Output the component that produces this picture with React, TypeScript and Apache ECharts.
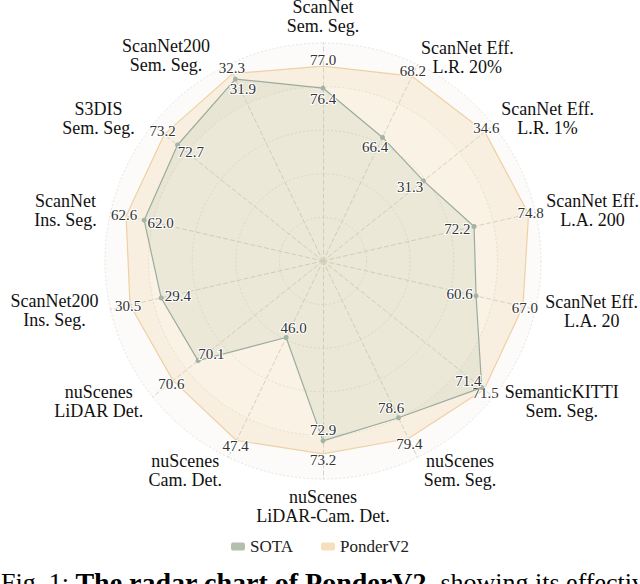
import React, { useEffect, useRef } from 'react';
import * as echarts from 'echarts';

// ---- data (clockwise from top) ----
const categories = [
  'ScanNet\nSem. Seg.',
  'ScanNet Eff.\nL.R. 20%',
  'ScanNet Eff.\nL.R. 1%',
  'ScanNet Eff.\nL.A. 200',
  'ScanNet Eff.\nL.A. 20',
  'SemanticKITTI\nSem. Seg.',
  'nuScenes\nSem. Seg.',
  'nuScenes\nLiDAR-Cam. Det.',
  'nuScenes\nCam. Det.',
  'nuScenes\nLiDAR Det.',
  'ScanNet200\nIns. Seg.',
  'ScanNet\nIns. Seg.',
  'S3DIS\nSem. Seg.',
  'ScanNet200\nSem. Seg.',
];
const sotaValues = [76.4, 66.4, 31.3, 72.2, 60.6, 71.4, 78.6, 72.9, 46.0, 70.1, 29.4, 62.0, 72.7, 31.9];
const ponderValues = [77.0, 68.2, 34.6, 74.8, 67.0, 71.5, 79.4, 73.2, 47.4, 70.6, 30.5, 62.6, 73.2, 32.3];
// per-axis scale range
const axisMin = [71.68, 62.77, 25.9, 65.0, 39.67, 64.63, 72.55, 68.75, 44.96, 67.6, 23.69, 56.05, 67.23, 18.43];
const axisMax = [77.63, 68.54, 35.06, 75.13, 68.73, 71.9, 80.13, 73.78, 47.63, 71.01, 31.19, 63.12, 73.64, 32.97];
const seriesNames = ['SOTA', 'PonderV2'];

// ---- layout ----
const CX = 323;
const CY = 261;
const R = 218;
const nameGaps = [8, 8, 10, 11, 7, 8, 14, 8, 15, 8, 4, 7, 10, 10];
const namePads = [
  [0, 0, 0, 0], [0, 0, 0, 0], [0, 0, 0, 0], [0, 0, 0, 0], [0, 0, 0, 3], [0, 0, 0, 5], [0, 0, 0, 0],
  [0, 0, 0, 0], [0, 0, 0, 0], [0, 3, 0, 0], [0, 8, 0, 0], [0, 7, 0, 0], [0, 10, 0, 0], [0, 14, 0, 0],
];
const SERIF = 'Liberation Serif';

// ECharts radar runs counter-clockwise; reorder so the chart reads clockwise
const order = [0, 13, 12, 11, 10, 9, 8, 7, 6, 5, 4, 3, 2, 1];

function makeLabelLayout(inward: boolean) {
  return (p: any) => {
    const r = p.rect;
    const px = r.x + r.width / 2;
    const py = r.y + r.height / 2;
    const dx = px - CX;
    const dy = py - CY;
    const len = Math.hypot(dx, dy) || 1;
    const ux = dx / len;
    const uy = dy / len;
    if (inward) {
      return { x: px - ux * 17, y: py - uy * 10.5, align: 'center', verticalAlign: 'middle' };
    }
    return { x: px + ux * 2, y: py + uy * 6, align: 'center', verticalAlign: 'middle' };
  };
}

function valueLabel() {
  return {
    show: true,
    fontFamily: SERIF,
    fontSize: 15,
    color: '#333',
    textBorderColor: '#fff',
    textBorderWidth: 2,
    formatter: (p: any) => Number(p.value).toFixed(1),
  };
}

const fontCss = `#root svg text, #root svg tspan { font-family: 'Liberation Serif', serif !important; }`;

export default function App() {
  const ref = useRef<HTMLDivElement>(null);
  useEffect(() => {
    if (!ref.current) return;
    const chart = echarts.init(ref.current, null, { renderer: 'svg' });
    const option: any = {
      animation: false,
      backgroundColor: '#ffffff',
      legend: {
        left: 231,
        top: 538,
        padding: 0,
        icon: 'roundRect',
        itemWidth: 14,
        itemHeight: 8,
        itemGap: 28,
        textStyle: { fontFamily: SERIF, fontSize: 17, color: '#222' },
        data: [
          { name: seriesNames[0], itemStyle: { color: '#b6beae' } },
          { name: seriesNames[1], itemStyle: { color: '#f6dfbd' } },
        ],
      },
      radar: {
        center: [CX, CY],
        radius: R,
        shape: 'circle',
        splitNumber: 5,
        startAngle: 90,
        indicator: order.map((i) => ({
          name: categories[i],
          min: axisMin[i],
          max: axisMax[i],
          nameGap: nameGaps[i],
          nameTextStyle: { padding: namePads[i] },
        })),
        axisName: {
          color: '#111',
          fontFamily: SERIF,
          fontSize: 18,
          lineHeight: 19,
          formatter: (n: string) =>
            n
              .split('\n')
              .map((s) => `{c|${s}}`)
              .join('\n'),
          rich: {
            c: { align: 'center', fontFamily: SERIF, fontSize: 18, lineHeight: 19, color: '#111' },
          },
        },
        axisLine: { lineStyle: { color: '#d0d3ca', width: 1, type: [4, 3] } },
        splitLine: { lineStyle: { color: '#e4e4e4', width: 1, type: [2, 2] } },
        splitArea: {
          show: true,
          areaStyle: {
            color: [
              'rgba(0,0,0,0)',
              'rgba(0,0,0,0)',
              'rgba(0,0,0,0)',
              'rgba(0,0,0,0)',
              'rgba(150,130,100,0.03)',
            ],
          },
        },
      },
      graphic: [
        {
          type: 'text',
          left: 1,
          top: 568,
          style: {
            text: '{r|Fig. 1: }{b|The radar chart of PonderV2,}{r| showing its effectiveness}',
            rich: {
              r: { fontFamily: SERIF, fontSize: 26, fill: '#000', fontWeight: 'normal' },
              b: { fontFamily: SERIF, fontSize: 28, fill: '#000', fontWeight: 'bold' },
            },
          },
        },
      ],
      series: [
        {
          type: 'radar',
          name: seriesNames[1],
          z: 2,
          symbol: 'circle',
          symbolSize: 2,
          itemStyle: { color: 'rgba(0,0,0,0)' },
          lineStyle: { color: '#f0d2a4', width: 1.2 },
          areaStyle: { color: 'rgba(238,205,155,0.38)' },
          label: valueLabel(),
          labelLayout: makeLabelLayout(false),
          data: [{ name: seriesNames[1], value: order.map((i) => ponderValues[i]) }],
        },
        {
          type: 'radar',
          name: seriesNames[0],
          z: 3,
          symbol: 'circle',
          symbolSize: 5,
          itemStyle: { color: '#a3b3a6' },
          lineStyle: { color: '#9aab9f', width: 1.2 },
          areaStyle: { color: 'rgba(165,185,165,0.25)' },
          label: valueLabel(),
          labelLayout: makeLabelLayout(true),
          data: [{ name: seriesNames[0], value: order.map((i) => sotaValues[i]) }],
        },
      ],
    };
    chart.setOption(option);
    return () => chart.dispose();
  }, []);
  return (
    <>
      <style>{fontCss}</style>
      <div ref={ref} style={{ position: 'absolute', left: 0, top: 0, width: 640, height: 584 }} />
    </>
  );
}
